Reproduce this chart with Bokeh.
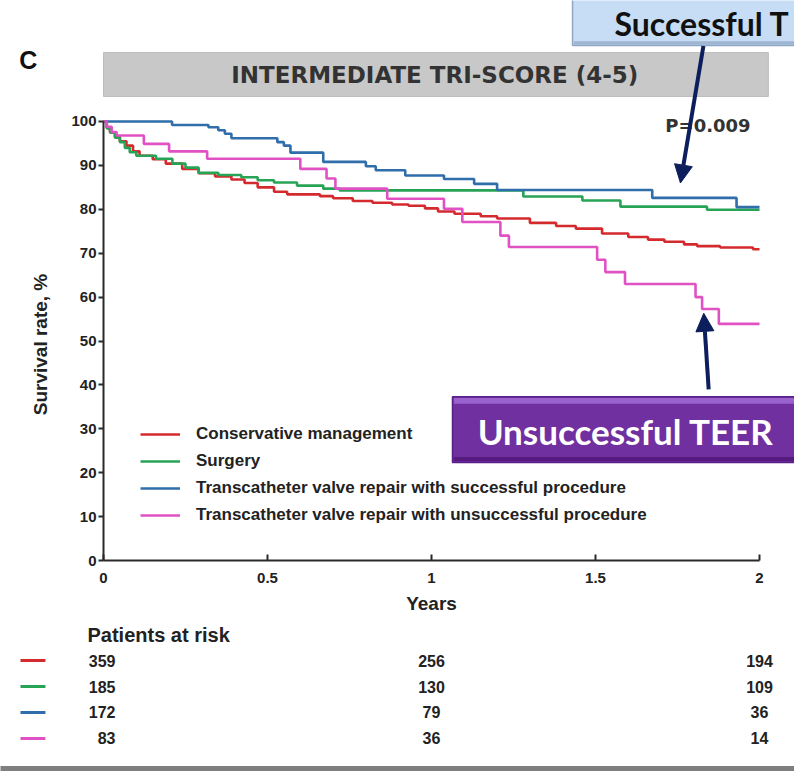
import math
from bokeh.plotting import figure
from bokeh.models import (Range1d, LinearAxis, FixedTicker, NumeralTickFormatter, Label,
                          Legend, LegendItem, Arrow, NormalHead)
from bokeh.core.properties import value
from bokeh.embed import file_html
from bokeh.resources import INLINE

# ---------------- data ----------------
series_names = ["Conservative management", "Surgery",
                "Transcatheter valve repair with successful procedure",
                "Transcatheter valve repair with unsuccessful procedure"]
series_colors = ["#d42a2e", "#27a356", "#2f6dab", "#e052c4"]

cons_t = [0, 0.01, 0.02, 0.035, 0.05, 0.07, 0.09, 0.11, 0.15, 0.19, 0.24, 0.29, 0.34, 0.39,
          0.43, 0.47, 0.52, 0.56, 0.66, 0.70, 0.76, 0.82, 0.88, 0.93, 0.98, 1.02, 1.07, 1.15,
          1.20, 1.30, 1.38, 1.44, 1.52, 1.60, 1.66, 1.71, 1.77, 1.81, 1.88, 1.98, 2.0]
cons_s = [100, 98.5, 97.5, 96.5, 95.5, 94.5, 93.2, 92.2, 91.4, 90.4, 89.2, 88.2, 87.5, 86.8,
          86.0, 85.0, 84.0, 83.4, 83.0, 82.5, 81.9, 81.5, 81.1, 80.8, 80.2, 79.5, 79.0, 78.4,
          77.9, 76.9, 76.2, 75.6, 74.5, 73.7, 73.1, 72.6, 72.0, 71.6, 71.3, 70.9, 70.9]

surg_t = [0, 0.01, 0.02, 0.035, 0.05, 0.065, 0.08, 0.10, 0.16, 0.21, 0.25, 0.29, 0.35, 0.42,
          0.47, 0.52, 0.59, 0.67, 0.72, 1.28, 1.46, 1.576, 1.84, 2.0]
surg_s = [100, 98.5, 97.5, 96.3, 95.3, 94.0, 93.0, 92.2, 91.5, 90.4, 89.5, 88.3, 87.8, 87.3,
          86.6, 86.1, 85.4, 84.7, 84.3, 82.9, 82.0, 80.6, 79.9, 79.9]

succ_t = [0, 0.209, 0.32, 0.35, 0.37, 0.39, 0.53, 0.55, 0.57, 0.67, 0.80, 0.83, 0.92, 1.038,
          1.13, 1.20, 1.673, 1.93, 2.0]
succ_s = [100, 99.2, 98.7, 98.0, 97.2, 96.2, 95.3, 94.5, 92.9, 90.8, 89.8, 88.9, 87.7, 86.9,
          85.8, 84.4, 82.6, 80.5, 80.5]

unsu_t = [0, 0.01, 0.025, 0.04, 0.123, 0.20, 0.316, 0.60, 0.68, 0.707, 0.865, 1.038, 1.094,
          1.21, 1.236, 1.505, 1.53, 1.59, 1.805, 1.825, 1.876, 2.0]
unsu_s = [100, 98.8, 97.6, 96.8, 94.9, 93.2, 91.5, 89.2, 87.0, 84.7, 82.4, 80.1, 77.1,
          74.0, 71.4, 68.5, 65.7, 63.0, 60.0, 57.3, 53.9, 53.9]

x_ticks = [0, 0.5, 1, 1.5, 2]
y_ticks = [0, 10, 20, 30, 40, 50, 60, 70, 80, 90, 100]

risk_times = [0, 1, 2]
risk_cons = [359, 256, 194]
risk_surg = [185, 130, 109]
risk_succ = [172, 79, 36]
risk_unsu = [83, 36, 14]

title_text = "INTERMEDIATE TRI-SCORE (4-5)"
p_text = "P=0.009"

FONT = "Liberation Sans"
WIDE = "DejaVu Sans"
NAVY = "#0c1f5c"
INK = "#222222"

# ---------------- single figure, frame = whole canvas ----------------
p = figure(width=794, height=771, output_backend="svg", toolbar_location=None,
           x_range=Range1d(-0.3140, 2.1067), y_range=Range1d(-48.06, 127.56),
           x_axis_type=None, y_axis_type=None,
           min_border_left=0, min_border_right=0, min_border_top=0, min_border_bottom=0)
p.outline_line_color = None
p.xgrid.visible = False
p.ygrid.visible = False
p.background_fill_color = "white"
p.border_fill_color = "white"

xa = LinearAxis(ticker=FixedTicker(ticks=x_ticks), formatter=NumeralTickFormatter(format="0.[0]"),
                bounds=(0, 2), fixed_location=0)
xa.axis_line_width = 2
xa.axis_line_color = "#2a2a2a"
xa.major_tick_in = 6
xa.major_tick_out = 0
xa.major_tick_line_width = 2
xa.major_tick_line_color = "#2a2a2a"
xa.minor_tick_line_color = None
xa.major_label_standoff = 12
xa.major_label_text_font = FONT
xa.major_label_text_font_style = "bold"
xa.major_label_text_font_size = "15px"
xa.major_label_text_color = INK
p.add_layout(xa, "below")

ya = LinearAxis(ticker=FixedTicker(ticks=y_ticks), bounds=(0, 100), fixed_location=0)
ya.axis_line_width = 2
ya.axis_line_color = "#2a2a2a"
ya.major_tick_in = 0
ya.major_tick_out = 5
ya.major_tick_line_width = 2
ya.major_tick_line_color = "#2a2a2a"
ya.minor_tick_line_color = None
ya.major_label_standoff = 2
ya.major_label_text_font = FONT
ya.major_label_text_font_style = "bold"
ya.major_label_text_font_size = "15px"
ya.major_label_text_color = INK
p.add_layout(ya, "left")

p.add_layout(Label(x=1.0, y=-9.8, text="Years", text_align="center", text_baseline="middle",
                   text_font=FONT, text_font_style="bold", text_font_size="19px",
                   text_color=INK))
p.add_layout(Label(x=-0.192, y=49.2, text="Survival rate, %", angle=math.pi / 2,
                   text_align="center", text_baseline="middle",
                   text_font=FONT, text_font_style="bold", text_font_size="19px",
                   text_color=INK))

# title band
p.quad(left=[0], right=[2.027], bottom=[105.7], top=[115.7],
       fill_color="#c8c8c8", line_color="#bdbdbd")
p.add_layout(Label(x=1.01, y=110.6, text=title_text, text_align="center", text_baseline="middle",
                   text_font=WIDE, text_font_style="bold", text_font_size="23px",
                   text_color="#333333"))
p.add_layout(Label(x=-0.229, y=113.9, text="C", text_align="center", text_baseline="middle",
                   text_font=FONT, text_font_style="bold", text_font_size="25px",
                   text_color="#111111"))
p.add_layout(Label(x=1.713, y=99.1, text=p_text, text_align="left", text_baseline="middle",
                   text_font=WIDE, text_font_style="bold", text_font_size="18px",
                   text_color="#333333"))

# curves
renderers = []
for t, s, c in [(cons_t, cons_s, series_colors[0]), (surg_t, surg_s, series_colors[1]),
                (succ_t, succ_s, series_colors[2]), (unsu_t, unsu_s, series_colors[3])]:
    r = p.step(x=t, y=s, mode="after", line_color=c, line_width=2.6)
    renderers.append(r)

legend = Legend(items=[LegendItem(label=n, renderers=[r]) for n, r in zip(series_names, renderers)],
                location=(140, 246), orientation="vertical",
                glyph_width=40, glyph_height=20, label_height=20, label_standoff=16,
                spacing=7, padding=0, margin=0,
                border_line_color=None, background_fill_alpha=0,
                label_text_font=FONT, label_text_font_style="bold",
                label_text_font_size="17px", label_text_color=INK)
p.add_layout(legend, "center")

# Unsuccessful TEER callout
p.quad(left=[1.064], right=[2.2], bottom=[22.3], top=[37.3],
       fill_color="#7030a0", line_color="#5a2088", line_width=1.5)
p.quad(left=[1.068], right=[2.2], bottom=[35.7], top=[37.0],
       fill_color="#9a62cc", line_color=None)
p.quad(left=[1.068], right=[2.2], bottom=[22.6], top=[23.6],
       fill_color="#561a80", line_color=None)
p.add_layout(Label(x=1.592, y=29.6, text="Unsuccessful TEER", text_align="center",
                   text_baseline="middle", text_font="Lato", text_font_style="bold",
                   text_font_size="35px", text_color="white"))

# Successful TEER callout (runs off the right edge as in the source)
p.quad(left=[1.43], right=[2.2], bottom=[117.3], top=[130],
       fill_color="#c6ddf5", line_color="#8fa6c2", line_width=1.5)
p.quad(left=[1.434], right=[2.2], bottom=[117.5], top=[118.3],
       fill_color="#9fb6d2", line_color=None)
p.add_layout(Label(x=1.558, y=122.3, text="Successful T", text_align="left",
                   text_baseline="middle", text_font="Lato", text_font_style="bold",
                   text_font_size="32px", text_color="#111111"))

# arrows
p.add_layout(Arrow(end=NormalHead(size=18, fill_color=NAVY, line_color=NAVY),
                   x_start=1.829, y_start=117.2, x_end=1.759, y_end=86.0,
                   line_color=NAVY, line_width=4))
p.add_layout(Arrow(end=NormalHead(size=18, fill_color=NAVY, line_color=NAVY),
                   x_start=1.845, y_start=39.0, x_end=1.830, y_end=56.3,
                   line_color=NAVY, line_width=4))

# ---------------- patients at risk table (below the axis) ----------------
row_y0 = -22.78      # first row
row_step = -5.92     # distance between rows
p.add_layout(Label(x=0, y=row_y0 - row_step, x_offset=-16, text="Patients at risk",
                   text_align="left", text_baseline="middle", text_font=FONT,
                   text_font_style="bold", text_font_size="20px", text_color=INK))

rows = [risk_cons, risk_surg, risk_succ, risk_unsu]
for i, (vals, c) in enumerate(zip(rows, series_colors)):
    yy = row_y0 + i * row_step
    p.segment(x0=[-0.253], y0=[yy], x1=[-0.177], y1=[yy], line_color=c, line_width=3)
    p.text(x=[risk_times[0]], y=[yy], text=[str(vals[0])], text_align="right",
           text_baseline="middle", x_offset=12, text_font=value(FONT), text_font_style="bold",
           text_font_size="16px", text_color=INK)
    p.text(x=risk_times[1:], y=[yy] * (len(risk_times) - 1), text=[str(v) for v in vals[1:]],
           text_align="center", text_baseline="middle", text_font=value(FONT),
           text_font_style="bold", text_font_size="16px", text_color=INK)

# slide footer bar
p.quad(left=[-0.4], right=[2.2], bottom=[-50], top=[-46.8], fill_color="#7f7f7f", line_color=None)

open("out.html", "w").write(file_html(p, INLINE))
